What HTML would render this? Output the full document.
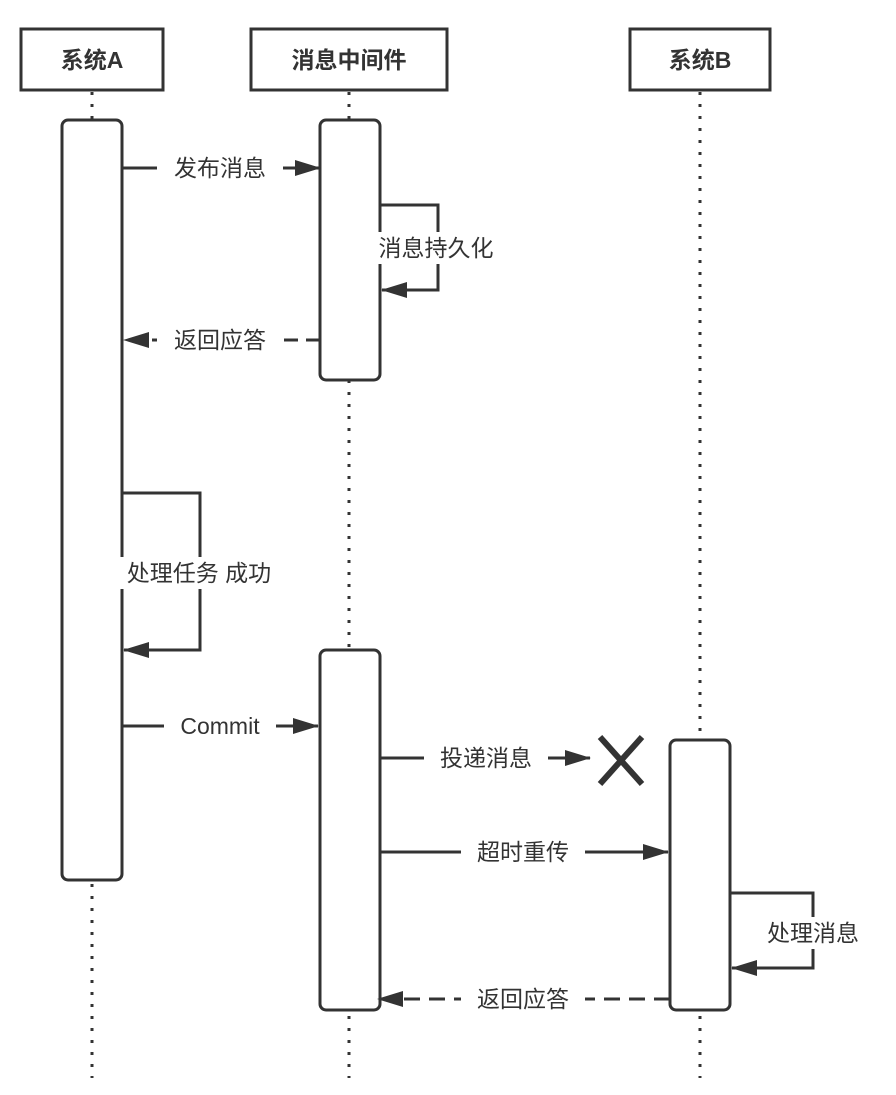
<!DOCTYPE html>
<html><head><meta charset="utf-8"><style>
body{margin:0;background:#fff}
svg text{font-family:"Liberation Sans","Noto Sans CJK SC",sans-serif;fill:#333}
</style></head><body>
<svg width="896" height="1090" viewBox="0 0 896 1090" xmlns="http://www.w3.org/2000/svg">
<defs><marker id="a" markerWidth="12" markerHeight="10" refX="11" refY="5" orient="auto" markerUnits="userSpaceOnUse"><path d="M0,0 L12,5 L0,10 Z" fill="#333"/></marker>
<marker id="b" markerWidth="26" markerHeight="16" refX="25" refY="8" orient="auto" markerUnits="userSpaceOnUse"><path d="M0,0 L26,8 L0,16 Z" fill="#333"/></marker></defs>
<g stroke="#333" stroke-width="3" stroke-dasharray="3 9" fill="none">
<line x1="92" y1="92" x2="92" y2="1078"/>
<line x1="349" y1="92" x2="349" y2="1078"/>
<line x1="700" y1="92" x2="700" y2="1078"/>
</g>
<g stroke="#333" stroke-width="3" fill="#fff">
<rect x="21" y="29" width="142" height="61"/>
<rect x="251" y="29" width="196" height="61"/>
<rect x="630" y="29" width="140" height="61"/>
<rect x="62" y="120" width="60" height="760" rx="6"/>
<rect x="320" y="120" width="60" height="260" rx="6"/>
<rect x="320" y="650" width="60" height="360" rx="6"/>
<rect x="670" y="740" width="60" height="270" rx="6"/>
</g>
<g font-size="23" font-weight="bold" text-anchor="middle">
<text x="92" y="68">系统A</text>
<text x="349" y="68">消息中间件</text>
<text x="700" y="68">系统B</text>
</g>
<g stroke="#333" stroke-width="3" fill="none">
<line x1="122" y1="168" x2="320" y2="168" marker-end="url(#b)"/>
<polyline points="380,205 438,205 438,290 382,290" marker-end="url(#b)"/>
<line x1="320" y1="340" x2="124" y2="340" stroke-dasharray="14 8" marker-end="url(#b)"/>
<polyline points="122,493 200,493 200,650 124,650" marker-end="url(#b)"/>
<line x1="122" y1="726" x2="318" y2="726" marker-end="url(#b)"/>
<line x1="380" y1="758" x2="590" y2="758" marker-end="url(#b)"/>
<line x1="380" y1="852" x2="668" y2="852" marker-end="url(#b)"/>
<polyline points="730,893 813,893 813,968 732,968" marker-end="url(#b)"/>
<line x1="670" y1="999" x2="378" y2="999" stroke-dasharray="16 9" marker-end="url(#b)"/>
<g stroke-width="6"><line x1="600" y1="737" x2="642" y2="784"/><line x1="642" y1="737" x2="600" y2="784"/></g>
</g>
<g font-size="23" text-anchor="middle">
<rect x="157" y="152" width="126" height="32" fill="#fff"/><text x="220" y="176">发布消息</text>
<rect x="360" y="232" width="152" height="32" fill="#fff"/><text x="436" y="256">消息持久化</text>
<rect x="157" y="324" width="126" height="32" fill="#fff"/><text x="220" y="348">返回应答</text>
<rect x="102" y="557" width="194" height="32" fill="#fff"/><text x="199" y="581">处理任务 成功</text>
<rect x="164" y="710" width="112" height="32" fill="#fff"/><text x="220" y="734">Commit</text>
<rect x="424" y="742" width="124" height="32" fill="#fff"/><text x="486" y="766">投递消息</text>
<rect x="461" y="836" width="124" height="32" fill="#fff"/><text x="523" y="860">超时重传</text>
<rect x="751" y="917" width="124" height="32" fill="#fff"/><text x="813" y="941">处理消息</text>
<rect x="461" y="983" width="124" height="32" fill="#fff"/><text x="523" y="1007">返回应答</text>
</g>
</svg>
</body></html>
